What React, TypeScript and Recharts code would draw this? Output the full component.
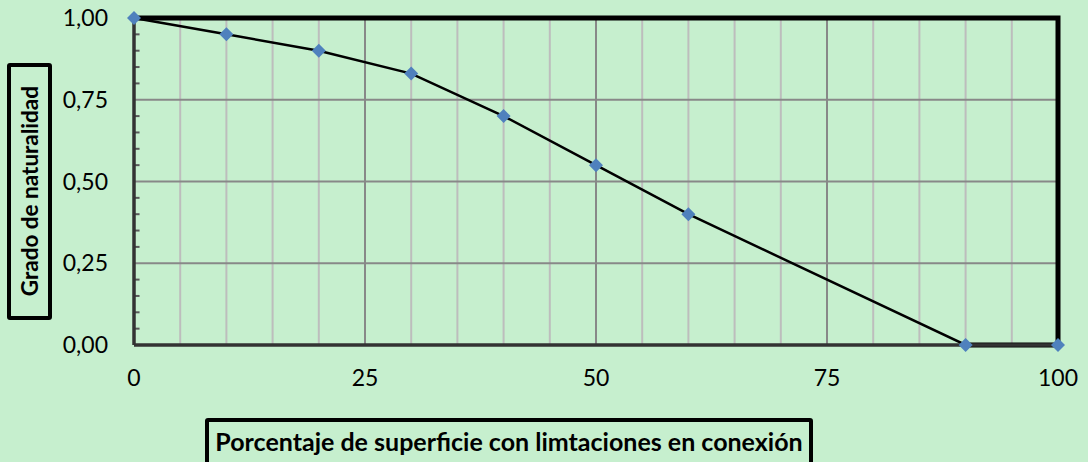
import { LineChart, Line, XAxis, YAxis, ReferenceLine } from 'recharts';

// porcentaje de superficie con limitaciones vs grado de naturalidad
const pctValues = [0, 10, 20, 30, 40, 50, 60, 90, 100];
const gradoValues = [1.0, 0.95, 0.9, 0.83, 0.7, 0.55, 0.4, 0.0, 0.0];

// thick frame drawn as a second series (top, right, bottom-right)
const frameX = [0, 100, 100, 90];
const frameY = [1, 1, 0, 0];

const xTicks = [0, 25, 50, 75, 100];
const xMinorGrid = [5, 10, 15, 20, 30, 35, 40, 45, 55, 60, 65, 70, 80, 85, 90, 95];
const xMajorGrid = [25, 50, 75];
const yTicks = [0, 0.25, 0.5, 0.75, 1];
const yGrid = [0.25, 0.5, 0.75];
const yMinorTicks = [0.05, 0.1, 0.15, 0.2, 0.3, 0.35, 0.4, 0.45, 0.55, 0.6, 0.65, 0.7, 0.8, 0.85, 0.9, 0.95];
const minorTickLen = 0.6; // in x units, short inner tick marks

const data = pctValues.map((x, i) => ({ x, y: gradoValues[i] }));
const frameData = frameX.map((x, i) => ({ x, y: frameY[i] }));

const Diamond = (props: any) => {
    const { cx, cy, index } = props;
    if (cx == null || cy == null) return null;
    const r = 7;
    return (
        <path
            key={`d-${index}`}
            d={`M${cx},${cy - r} L${cx + r},${cy} L${cx},${cy + r} L${cx - r},${cy} Z`}
            fill="#4f81bd"
        />
    );
};

const fmt = (v: number) => v.toFixed(2).replace('.', ',');

export default function App() {
    return (
        <div
            style={{
                position: 'absolute',
                left: 0,
                top: 0,
                width: 1088,
                height: 462,
                background: '#c6efce',
                overflow: 'hidden',
                fontFamily: 'Lato, sans-serif',
            }}
        >
            <LineChart width={1088} height={462} data={data} margin={{ top: 18, right: 30, bottom: 87, left: 74 }}>
                <XAxis
                    type="number"
                    dataKey="x"
                    domain={[0, 100]}
                    ticks={xTicks}
                    tickLine={false}
                    tickSize={0}
                    tickMargin={25}
                    height={30}
                    axisLine={{ stroke: '#333', strokeWidth: 3.5 }}
                    tick={{ fill: '#000', fontSize: 23 }}
                />
                <YAxis
                    type="number"
                    domain={[0, 1]}
                    ticks={yTicks}
                    tickFormatter={fmt}
                    tickLine={false}
                    tickSize={0}
                    tickMargin={26}
                    width={60}
                    axisLine={{ stroke: '#333', strokeWidth: 3.5 }}
                    tick={{ fill: '#000', fontSize: 23 }}
                />
                {xMinorGrid.map((v) => (
                    <ReferenceLine key={`mx-${v}`} x={v} stroke="#bdbdbd" strokeWidth={2} />
                ))}
                {xMajorGrid.map((v) => (
                    <ReferenceLine key={`Mx-${v}`} x={v} stroke="#888888" strokeWidth={2} />
                ))}
                {yGrid.map((v) => (
                    <ReferenceLine key={`gy-${v}`} y={v} stroke="#888888" strokeWidth={2} />
                ))}
                {yMinorTicks.map((v) => (
                    <ReferenceLine
                        key={`ty-${v}`}
                        segment={[{ x: 0, y: v }, { x: minorTickLen, y: v }]}
                        stroke="#595959"
                        strokeWidth={2}
                    />
                ))}
                <Line
                    data={frameData}
                    dataKey="y"
                    type="linear"
                    stroke="#000"
                    strokeWidth={5}
                    dot={false}
                    activeDot={false}
                    isAnimationActive={false}
                />
                <Line
                    dataKey="y"
                    type="linear"
                    stroke="#000"
                    strokeWidth={2.5}
                    dot={<Diamond />}
                    activeDot={false}
                    isAnimationActive={false}
                />
            </LineChart>

            {/* y axis title */}
            <div
                style={{
                    position: 'absolute',
                    left: 7,
                    top: 63,
                    width: 45,
                    height: 257,
                    boxSizing: 'border-box',
                    border: '4px solid #000',
                    borderRadius: 3,
                    display: 'flex',
                    alignItems: 'center',
                    justifyContent: 'center',
                }}
            >
                <span
                    style={{
                        writingMode: 'vertical-rl',
                        transform: 'rotate(180deg)',
                        fontWeight: 700,
                        fontSize: 22.5,
                        whiteSpace: 'nowrap',
                    }}
                >
                    Grado de naturalidad
                </span>
            </div>

            {/* x axis title */}
            <div
                style={{
                    position: 'absolute',
                    left: 205,
                    top: 418,
                    width: 608,
                    height: 52,
                    boxSizing: 'border-box',
                    border: '4px solid #000',
                    borderRadius: 3,
                    paddingTop: 4,
                    textAlign: 'center',
                    fontWeight: 700,
                    fontSize: 25,
                    whiteSpace: 'nowrap',
                }}
            >
                Porcentaje de superficie con limtaciones en conexión
            </div>
        </div>
    );
}
